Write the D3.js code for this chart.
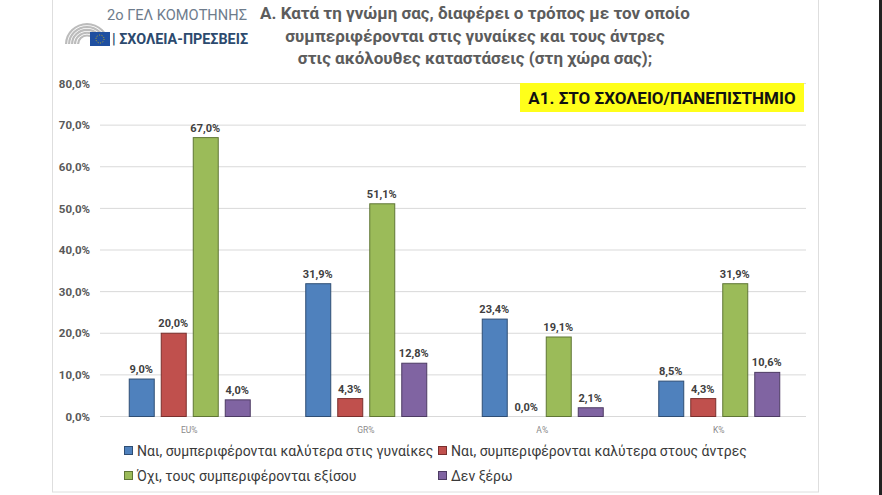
<!DOCTYPE html>
<html>
  <head>
    <meta charset="utf-8">
    <title>Α1. Στο σχολείο/πανεπιστήμιο</title>
    <script src="https://d3js.org/d3.v7.min.js"></script>
    <style>
      body { margin: 0; background: #fff; }
      svg { display: block; font-family: Roboto, "Noto Sans", sans-serif; }
    </style>
  </head>
  <body>
    <svg width="882" height="495"></svg>

    <script>
      const categories = ["EU%", "GR%", "A%", "K%"];
      const seriesNames = [
        "Ναι, συμπεριφέρονται καλύτερα στις γυναίκες",
        "Ναι, συμπεριφέρονται καλύτερα στους άντρες",
        "Όχι, τους συμπεριφέρονται εξίσου",
        "Δεν ξέρω"
      ];
      const women = [9.0, 31.9, 23.4, 8.5];
      const men = [20.0, 4.3, 0.0, 4.3];
      const equal = [67.0, 51.1, 19.1, 31.9];
      const dontKnow = [4.0, 12.8, 2.1, 10.6];
      const yTicks = [0, 10, 20, 30, 40, 50, 60, 70, 80];
      const titleLines = [
        "Α. Κατά τη γνώμη σας, διαφέρει ο τρόπος με τον οποίο",
        "συμπεριφέρονται στις γυναίκες και τους άντρες",
        "στις ακόλουθες καταστάσεις (στη χώρα σας);"
      ];

      const colors = ["#4f81bd", "#c0504d", "#9bbb59", "#8064a2"];
      const strokes = ["#2f4e74", "#7a2f2d", "#5f7635", "#4d3b63"];

      const svg = d3.select("svg");
      const series = [women, men, equal, dontKnow];
      const fmt = v => v.toFixed(1).replace(".", ",") + "%";

      // frame of the chart object
      svg.append("rect")
        .attr("x", 52.5).attr("y", -2).attr("width", 766).attr("height", 494)
        .attr("fill", "#fff").attr("stroke", "#dedede");
      svg.append("rect")
        .attr("x", 879).attr("y", 0).attr("width", 3).attr("height", 495)
        .attr("fill", "#222");

      const x = d3.scaleBand().domain(categories).range([101, 807]);
      const xSub = d3.scaleBand().domain(d3.range(4)).range([0, 121]).paddingInner(0.219);
      const groupOffset = (x.bandwidth() - 121) / 2;
      const y = d3.scaleLinear().domain([0, 80]).range([416.5, 83.5]);

      // grid
      svg.append("g")
        .selectAll("line")
        .data(yTicks)
        .join("line")
        .attr("x1", 100).attr("x2", 806)
        .attr("y1", d => y(d)).attr("y2", d => y(d))
        .attr("stroke", "#d9d9d9").attr("stroke-width", 1);

      // y axis labels
      const yAxis = svg.append("g")
        .attr("transform", "translate(90,0)")
        .call(d3.axisLeft(y).tickValues(yTicks).tickFormat(d => d.toFixed(1).replace(".", ",") + "%").tickSize(0).tickPadding(0));
      yAxis.select(".domain").remove();
      yAxis.selectAll("text")
        .attr("font-family", "Roboto, sans-serif")
        .attr("font-size", 11.5).attr("font-weight", "bold").attr("fill", "#595959");

      // x axis labels
      const xAxis = svg.append("g")
        .attr("transform", "translate(0,427)")
        .call(d3.axisBottom(x).tickSize(0).tickPadding(0));
      xAxis.select(".domain").remove();
      xAxis.selectAll("text")
        .attr("font-family", "Roboto, sans-serif")
        .attr("font-size", 8.5).attr("fill", "#8a8a8a");

      // bars
      const groups = svg.append("g")
        .selectAll("g")
        .data(categories)
        .join("g")
        .attr("transform", d => `translate(${x(d) + groupOffset},0)`);

      groups.selectAll("rect")
        .data((c, ci) => series.map((s, si) => ({ si, v: s[ci] })))
        .join("rect")
        .filter(d => d.v > 0)
        .attr("x", d => xSub(d.si) + 0.5)
        .attr("y", d => y(d.v))
        .attr("width", xSub.bandwidth())
        .attr("height", d => y(0) - y(d.v))
        .attr("fill", d => colors[d.si])
        .attr("stroke", d => strokes[d.si])
        .attr("stroke-width", 1);

      groups.selectAll("text")
        .data((c, ci) => series.map((s, si) => ({ si, v: s[ci] })))
        .join("text")
        .attr("x", d => xSub(d.si) + xSub.bandwidth() / 2)
        .attr("y", d => y(d.v) - 6)
        .attr("text-anchor", "middle")
        .attr("font-size", 11).attr("font-weight", "bold").attr("fill", "#404040")
        .text(d => fmt(d.v));

      // legend
      const legendPos = [[124, 451], [438, 451], [124, 476], [438, 476]];
      const legend = svg.append("g")
        .selectAll("g")
        .data(seriesNames)
        .join("g")
        .attr("transform", (d, i) => `translate(${legendPos[i][0]},${legendPos[i][1]})`);
      legend.append("rect")
        .attr("x", 0.5).attr("y", -4.5).attr("width", 8).attr("height", 8)
        .attr("fill", (d, i) => colors[i]).attr("stroke", (d, i) => strokes[i]);
      legend.append("text")
        .attr("x", 13).attr("y", 5)
        .attr("font-size", 14).attr("fill", "#3a3a3a")
        .text(d => d);

      // title
      svg.append("g")
        .selectAll("text")
        .data(titleLines)
        .join("text")
        .attr("x", 475)
        .attr("y", (d, i) => 19 + i * 22.5)
        .attr("text-anchor", "middle")
        .attr("font-size", 17).attr("font-weight", "bold").attr("fill", "#5c5c5c")
        .text(d => d);

      // subtitle box
      svg.append("rect")
        .attr("x", 520).attr("y", 83).attr("width", 284).attr("height", 29)
        .attr("fill", "#ffff1a");
      svg.append("text")
        .attr("x", 662).attr("y", 104)
        .attr("text-anchor", "middle")
        .attr("font-size", 17).attr("font-weight", "bold").attr("fill", "#111")
        .text("Α1. ΣΤΟ ΣΧΟΛΕΙΟ/ΠΑΝΕΠΙΣΤΗΜΙΟ");

      // school logo
      const logo = svg.append("g");
      [22, 19, 16, 13, 10].forEach(r => {
        logo.append("path")
          .attr("d", d3.arc()({ innerRadius: r - 2.2, outerRadius: r, startAngle: -Math.PI / 2, endAngle: Math.PI / 2 }))
          .attr("transform", "translate(87,44) scale(1,0.95)")
          .attr("fill", "#bcbcbc");
      });
      logo.append("rect")
        .attr("x", 90).attr("y", 32).attr("width", 20).attr("height", 14)
        .attr("fill", "#1f4fa0");
      logo.append("circle")
        .attr("cx", 100).attr("cy", 39).attr("r", 4)
        .attr("fill", "none").attr("stroke", "#e8c300").attr("stroke-width", 0.8)
        .attr("stroke-dasharray", "1,1.5");
      logo.append("text")
        .attr("x", 107).attr("y", 20)
        .attr("font-size", 15).attr("fill", "#6e7c8c")
        .attr("textLength", 140).attr("lengthAdjust", "spacingAndGlyphs")
        .text("2ο ΓΕΛ ΚΟΜΟΤΗΝΗΣ");
      logo.append("text")
        .attr("x", 112).attr("y", 44)
        .attr("font-size", 15).attr("font-weight", "bold").attr("fill", "#2c4a6e")
        .attr("textLength", 136).attr("lengthAdjust", "spacingAndGlyphs")
        .text("| ΣΧΟΛΕΙΑ-ΠΡΕΣΒΕΙΣ");
    </script>
  </body>
</html>
